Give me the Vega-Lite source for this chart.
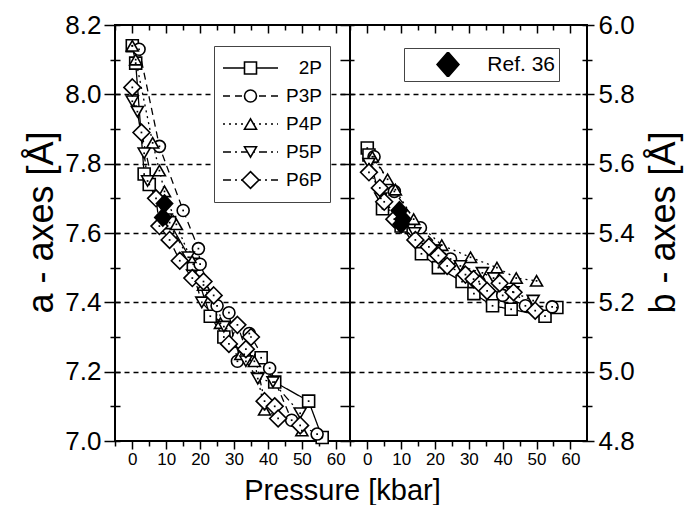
{
  "$schema": "https://vega.github.io/schema/vega-lite/v6.json",
  "padding": {"left": 22, "top": 11, "right": 5, "bottom": 0},
  "config": {
    "font": "Liberation Sans",
    "view": {"stroke": "black", "strokeWidth": 2},
    "axis": {"labelColor": "black", "tickColor": "black", "titleColor": "black", "titleFontWeight": "normal", "tickWidth": 1.5, "labelFont": "Liberation Sans", "titleFont": "Liberation Sans"},
    "legend": {"labelFont": "Liberation Sans", "labelColor": "black"}
  },
  "datasets": {
    "a": [
      {"s":"2P","P":0,"v":8.14},{"s":"2P","P":1,"v":8.09},{"s":"2P","P":3.5,"v":7.77},{"s":"2P","P":5,"v":7.74},{"s":"2P","P":11,"v":7.63},{"s":"2P","P":18,"v":7.51},{"s":"2P","P":23,"v":7.36},{"s":"2P","P":27,"v":7.30},{"s":"2P","P":33,"v":7.25},{"s":"2P","P":38,"v":7.24},{"s":"2P","P":42,"v":7.17},{"s":"2P","P":52,"v":7.115},{"s":"2P","P":56,"v":7.01},
      {"s":"P3P","P":2,"v":8.13},{"s":"P3P","P":8,"v":7.85},{"s":"P3P","P":15,"v":7.665},{"s":"P3P","P":19.5,"v":7.555},{"s":"P3P","P":20,"v":7.51},{"s":"P3P","P":25,"v":7.39},{"s":"P3P","P":28.5,"v":7.37},{"s":"P3P","P":31,"v":7.23},{"s":"P3P","P":34.5,"v":7.31},{"s":"P3P","P":40.5,"v":7.21},{"s":"P3P","P":47,"v":7.06},{"s":"P3P","P":54.5,"v":7.02},
      {"s":"P4P","P":0,"v":8.14},{"s":"P4P","P":1,"v":8.10},{"s":"P4P","P":6,"v":7.86},{"s":"P4P","P":8,"v":7.78},{"s":"P4P","P":9.5,"v":7.72},{"s":"P4P","P":13,"v":7.625},{"s":"P4P","P":17,"v":7.53},{"s":"P4P","P":21,"v":7.45},{"s":"P4P","P":26,"v":7.34},{"s":"P4P","P":32,"v":7.25},{"s":"P4P","P":36,"v":7.23},{"s":"P4P","P":39,"v":7.09},{"s":"P4P","P":50,"v":7.03},
      {"s":"P5P","P":0,"v":7.98},{"s":"P5P","P":1.5,"v":7.95},{"s":"P5P","P":3.5,"v":7.83},{"s":"P5P","P":4.5,"v":7.75},{"s":"P5P","P":10,"v":7.64},{"s":"P5P","P":16.5,"v":7.53},{"s":"P5P","P":20.5,"v":7.40},{"s":"P5P","P":27,"v":7.33},{"s":"P5P","P":33.5,"v":7.23},{"s":"P5P","P":37,"v":7.18},{"s":"P5P","P":41.5,"v":7.17},{"s":"P5P","P":49.5,"v":7.08},
      {"s":"P6P","P":0,"v":8.02},{"s":"P6P","P":2.7,"v":7.89},{"s":"P6P","P":7,"v":7.70},{"s":"P6P","P":8,"v":7.62},{"s":"P6P","P":11,"v":7.58},{"s":"P6P","P":14,"v":7.52},{"s":"P6P","P":17.7,"v":7.47},{"s":"P6P","P":21,"v":7.46},{"s":"P6P","P":24,"v":7.42},{"s":"P6P","P":28.5,"v":7.28},{"s":"P6P","P":31,"v":7.335},{"s":"P6P","P":33.5,"v":7.265},{"s":"P6P","P":35,"v":7.30},{"s":"P6P","P":39,"v":7.115},{"s":"P6P","P":42,"v":7.10},{"s":"P6P","P":43,"v":7.065},{"s":"P6P","P":49.5,"v":7.045}
    ],
    "refa": [
      {"s":"Ref. 36","P":9.5,"v":7.685},{"s":"Ref. 36","P":9,"v":7.645}
    ],
    "b": [
      {"s":"2P","P":0,"v":5.645},{"s":"2P","P":0.5,"v":5.625},{"s":"2P","P":4.5,"v":5.47},{"s":"2P","P":10,"v":5.42},{"s":"2P","P":16,"v":5.34},{"s":"2P","P":21,"v":5.30},{"s":"2P","P":28,"v":5.26},{"s":"2P","P":31.5,"v":5.225},{"s":"2P","P":37,"v":5.19},{"s":"2P","P":42.5,"v":5.18},{"s":"2P","P":52.5,"v":5.16},{"s":"2P","P":56,"v":5.185},
      {"s":"P3P","P":2,"v":5.62},{"s":"P3P","P":8,"v":5.52},{"s":"P3P","P":15.7,"v":5.415},{"s":"P3P","P":24.6,"v":5.325},{"s":"P3P","P":33,"v":5.26},{"s":"P3P","P":40,"v":5.22},{"s":"P3P","P":46.7,"v":5.19},{"s":"P3P","P":54.6,"v":5.187},
      {"s":"P4P","P":1.5,"v":5.62},{"s":"P4P","P":6,"v":5.555},{"s":"P4P","P":8.3,"v":5.525},{"s":"P4P","P":13.7,"v":5.44},{"s":"P4P","P":22,"v":5.365},{"s":"P4P","P":30.5,"v":5.33},{"s":"P4P","P":38.3,"v":5.30},{"s":"P4P","P":44,"v":5.27},{"s":"P4P","P":50,"v":5.262},
      {"s":"P5P","P":0.5,"v":5.60},{"s":"P5P","P":4,"v":5.50},{"s":"P5P","P":9,"v":5.45},{"s":"P5P","P":14,"v":5.40},{"s":"P5P","P":20,"v":5.35},{"s":"P5P","P":27.5,"v":5.305},{"s":"P5P","P":34,"v":5.285},{"s":"P5P","P":37.3,"v":5.27},{"s":"P5P","P":43,"v":5.23},{"s":"P5P","P":49,"v":5.205},
      {"s":"P6P","P":0.5,"v":5.575},{"s":"P6P","P":3.7,"v":5.53},{"s":"P6P","P":5,"v":5.49},{"s":"P6P","P":8,"v":5.44},{"s":"P6P","P":14.2,"v":5.38},{"s":"P6P","P":18.2,"v":5.36},{"s":"P6P","P":21,"v":5.335},{"s":"P6P","P":23.6,"v":5.305},{"s":"P6P","P":29,"v":5.28},{"s":"P6P","P":31.4,"v":5.267},{"s":"P6P","P":33.2,"v":5.253},{"s":"P6P","P":35.4,"v":5.233},{"s":"P6P","P":39.1,"v":5.255},{"s":"P6P","P":43.2,"v":5.229},{"s":"P6P","P":49.6,"v":5.176}
    ],
    "refb": [
      {"s":"Ref. 36","P":9.5,"v":5.465},{"s":"Ref. 36","P":10.5,"v":5.44},{"s":"Ref. 36","P":10,"v":5.425}
    ]
  },
  "hconcat": [
    {
      "width": 235,
      "height": 416,
      "layer": [
        {
          "data": {"name": "a"},
          "mark": {"type": "line", "strokeWidth": 1.3, "color": "black"},
          "encoding": {
            "x": {"field": "P", "type": "quantitative", "scale": {"domain": [-5.1, 64.2], "nice": false, "zero": false},
              "axis": {"orient": "bottom", "values": [-5,0,5,10,15,20,25,30,35,40,45,50,55,60], "labelExpr": "datum.value >= 0 && datum.value % 10 == 0 ? datum.label : ''", "tickSize": {"condition": {"test": "datum.value % 10 == 0", "value": 8}, "value": 5}, "domain": false, "grid": false, "labelFontSize": 17, "labelPadding": 2, "labelFlush": false, "labelOverlap": false, "title": "Pressure [kbar]", "titleFontSize": 29, "titleX": 227, "titleY": 58, "titleAlign": "center", "titleBaseline": "alphabetic"}},
            "y": {"field": "v", "type": "quantitative", "scale": {"domain": [7.0, 8.2], "nice": false, "zero": false},
              "axis": {"orient": "left", "values": [7.0,7.1,7.2,7.3,7.4,7.5,7.6,7.7,7.8,7.9,8.0,8.1,8.2], "labelExpr": "round(datum.value*10) % 2 == 0 ? format(datum.value, '.1f') : ''", "tickSize": {"condition": {"test": "round(datum.value*10) % 2 == 0", "value": 11}, "value": 5}, "domain": false, "grid": true, "gridColor": "black", "gridDash": [5, 4], "gridWidth": 1.3, "gridOpacity": {"condition": {"test": "round(datum.value*10) % 2 == 0 && datum.value > 7.05 && datum.value < 8.15", "value": 1}, "value": 0}, "labelFontSize": 26, "labelPadding": 3, "labelOverlap": false, "labelFlush": false, "title": "a - axes [Å]", "titleFontSize": 36, "titleX": -74, "titleY": 197, "titleAngle": 270, "titleBaseline": "middle", "titleAlign": "center"}},
            "strokeDash": {"field": "s", "type": "nominal", "scale": {"range": [[1, 0], [7, 5], [2, 4], [8, 4, 2, 4], [8, 4, 2, 4, 2, 4]]},
              "legend": {"orient": "none", "legendX": 99, "legendY": 21, "direction": "vertical", "title": null, "symbolType": "stroke", "symbolSize": 3025, "symbolStrokeWidth": 1.3, "symbolStrokeColor": "black", "clipHeight": 28, "rowPadding": 0, "padding": 8, "labelOffset": 43, "labelFontSize": 19, "strokeColor": "#444", "fillColor": "white", "labelAlign": "right"}}
          }
        },
        {
          "data": {"name": "a"},
          "mark": {"type": "point", "filled": true, "fill": "white", "stroke": "black", "strokeWidth": 1.6, "size": 144, "opacity": 1},
          "encoding": {
            "x": {"field": "P", "type": "quantitative", "axis": {"orient": "top", "values": [-5,0,5,10,15,20,25,30,35,40,45,50,55,60], "tickSize": {"condition": {"test": "datum.value % 10 == 0", "value": -8}, "value": -5}, "labels": false, "domain": false, "grid": false, "title": null}},
            "y": {"field": "v", "type": "quantitative", "axis": {"orient": "left", "values": [7.0,7.1,7.2,7.3,7.4,7.5,7.6,7.7,7.8,7.9,8.0,8.1,8.2], "tickSize": -5, "labels": false, "domain": false, "grid": false, "title": null}},
            "shape": {"field": "s", "type": "nominal", "scale": {"domain": ["2P", "P3P", "P4P", "P5P", "P6P"], "range": ["square", "circle", "triangle-up", "triangle-down", "M0,-1.4L1.4,0L0,1.4L-1.4,0Z"]},
              "legend": {"orient": "none", "legendX": 118, "legendY": 21, "direction": "vertical", "title": null, "symbolSize": 144, "symbolStrokeWidth": 1.6, "clipHeight": 28, "rowPadding": 0, "padding": 8, "labelFontSize": 19, "labelExpr": "''", "zindex": 1,
                "encode": {"symbols": {"stroke": {"value": "black"}, "strokeWidth": {"value": 1.6}, "fill": {"value": "white"}, "fillOpacity": {"value": 1}, "strokeOpacity": {"value": 1}}}}}
          }
        },
        {
          "data": {"name": "a"},
          "mark": {"type": "point", "filled": true, "color": "black", "size": 3, "shape": "square", "opacity": 1},
          "encoding": {
            "x": {"field": "P", "type": "quantitative", "axis": null},
            "y": {"field": "v", "type": "quantitative", "axis": null}
          }
        },
        {
          "data": {"name": "refa"},
          "mark": {"type": "point", "filled": true, "color": "black", "size": 200, "shape": "M0,-1.4L1.3,0L0,1.4L-1.3,0Z", "opacity": 1},
          "encoding": {
            "x": {"field": "P", "type": "quantitative", "axis": null},
            "y": {"field": "v", "type": "quantitative", "axis": null}
          }
        }
      ],
      "resolve": {"axis": {"x": "independent", "y": "independent"}}
    },
    {
      "width": 237,
      "height": 416,
      "layer": [
        {
          "data": {"name": "b"},
          "mark": {"type": "line", "strokeWidth": 1.3, "color": "black"},
          "encoding": {
            "x": {"field": "P", "type": "quantitative", "scale": {"domain": [-5.1, 64.9], "nice": false, "zero": false},
              "axis": {"orient": "bottom", "values": [-5,0,5,10,15,20,25,30,35,40,45,50,55,60], "labelExpr": "datum.value >= 0 && datum.value % 10 == 0 ? datum.label : ''", "tickSize": {"condition": {"test": "datum.value % 10 == 0", "value": 8}, "value": 5}, "domain": false, "grid": false, "labelFontSize": 17, "labelPadding": 2, "labelFlush": false, "labelOverlap": false, "title": null}},
            "y": {"field": "v", "type": "quantitative", "scale": {"domain": [4.8, 6.0], "nice": false, "zero": false},
              "axis": {"orient": "left", "values": [4.8,4.9,5.0,5.1,5.2,5.3,5.4,5.5,5.6,5.7,5.8,5.9,6.0], "labels": false, "tickSize": 10, "domain": false, "grid": true, "gridColor": "black", "gridDash": [5, 4], "gridWidth": 1.3, "gridOpacity": {"condition": {"test": "round(datum.value*10) % 2 == 0 && datum.value > 4.85 && datum.value < 5.95", "value": 1}, "value": 0}, "title": null}},
            "strokeDash": {"field": "s", "type": "nominal", "scale": {"range": [[1, 0], [7, 5], [2, 4], [8, 4, 2, 4], [8, 4, 2, 4, 2, 4]]}, "legend": null}
          }
        },
        {
          "data": {"name": "b"},
          "mark": {"type": "point", "filled": true, "fill": "white", "stroke": "black", "strokeWidth": 1.6, "size": 144, "opacity": 1},
          "encoding": {
            "x": {"field": "P", "type": "quantitative", "axis": {"orient": "top", "values": [-5,0,5,10,15,20,25,30,35,40,45,50,55,60], "tickSize": {"condition": {"test": "datum.value % 10 == 0", "value": -8}, "value": -5}, "labels": false, "domain": false, "grid": false, "title": null}},
            "y": {"field": "v", "type": "quantitative", "axis": {"orient": "left", "values": [4.8,4.9,5.0,5.1,5.2,5.3,5.4,5.5,5.6,5.7,5.8,5.9,6.0], "tickSize": -4, "labels": false, "domain": false, "grid": false, "title": null}},
            "shape": {"field": "s", "type": "nominal", "scale": {"domain": ["2P", "P3P", "P4P", "P5P", "P6P"], "range": ["square", "circle", "triangle-up", "triangle-down", "M0,-1.4L1.4,0L0,1.4L-1.4,0Z"]}, "legend": null}
          }
        },
        {
          "data": {"name": "b"},
          "mark": {"type": "point", "filled": true, "color": "black", "size": 3, "shape": "square", "opacity": 1},
          "encoding": {
            "x": {"field": "P", "type": "quantitative", "axis": null},
            "y": {"field": "v", "type": "quantitative", "axis": {"orient": "right", "values": [4.8,4.9,5.0,5.1,5.2,5.3,5.4,5.5,5.6,5.7,5.8,5.9,6.0], "labelExpr": "round(datum.value*10) % 2 == 0 ? format(datum.value, '.1f') : ''", "tickSize": {"condition": {"test": "round(datum.value*10) % 2 == 0", "value": 7}, "value": 5}, "domain": false, "grid": false, "labelFontSize": 26, "labelPadding": 4, "labelOverlap": false, "labelFlush": false, "title": "b - axes [Å]", "titleFontSize": 36, "titleX": 76, "titleY": 197, "titleAngle": 270, "titleBaseline": "middle", "titleAlign": "center"}}
          }
        },
        {
          "data": {"name": "refb"},
          "mark": {"type": "point", "filled": true, "size": 200, "shape": "M0,-1.4L1.3,0L0,1.4L-1.3,0Z", "opacity": 1},
          "encoding": {
            "x": {"field": "P", "type": "quantitative", "axis": null},
            "y": {"field": "v", "type": "quantitative", "axis": {"orient": "right", "values": [4.8,4.9,5.0,5.1,5.2,5.3,5.4,5.5,5.6,5.7,5.8,5.9,6.0], "tickSize": -5, "labels": false, "domain": false, "grid": false, "title": null}},
            "color": {"field": "s", "type": "nominal", "scale": {"range": ["black"]},
              "legend": {"orient": "none", "legendX": 54, "legendY": 23, "title": null, "symbolType": "M0.3,-0.42L0.667,0L0.3,0.42L-0.067,0Z", "symbolSize": 3600, "symbolFillColor": "black", "symbolStrokeColor": "black", "clipHeight": 25, "padding": 4, "labelOffset": 85, "labelFontSize": 21, "labelAlign": "right", "strokeColor": "#444", "fillColor": "white"}}
          }
        }
      ],
      "resolve": {"axis": {"x": "independent", "y": "independent"}}
    }
  ],
  "spacing": 0,
  "bounds": "flush",
  "resolve": {
    "scale": {"shape": "independent", "strokeDash": "independent", "color": "independent"},
    "legend": {"shape": "independent", "strokeDash": "independent", "color": "independent"}
  }
}
